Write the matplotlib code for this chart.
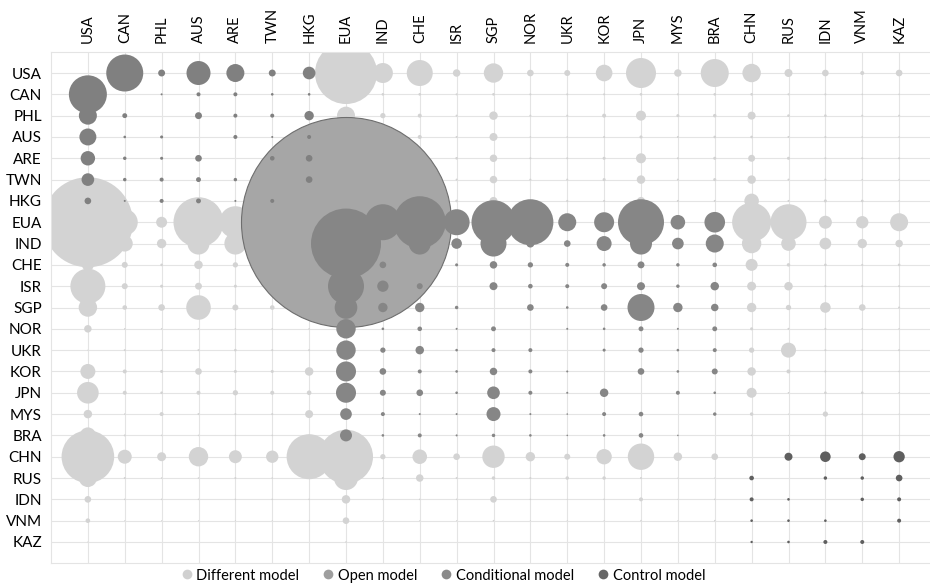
import numpy as np
import matplotlib.pyplot as plt
from matplotlib.lines import Line2D

plt.rcParams['font.family'] = ['Lato', 'DejaVu Sans']

countries = ['USA', 'CAN', 'PHL', 'AUS', 'ARE', 'TWN', 'HKG', 'EUA', 'IND', 'CHE', 'ISR', 'SGP',
             'NOR', 'UKR', 'KOR', 'JPN', 'MYS', 'BRA', 'CHN', 'RUS', 'IDN', 'VNM', 'KAZ']

# model followed by each economy
country_model = ['Open model'] * 7 + ['Conditional model'] * 11 + ['Control model'] * 5

legend_labels = ['Different model', 'Open model', 'Conditional model', 'Control model']

# bubble values, row = reporting economy, column = partner (same order as countries)
values = [
    [0, 342, 12, 144, 81, 12, 40, 961, 100, 169, 14, 94, 11, 9, 69, 225, 14, 196, 85, 16, 11, 4, 11],
    [361, 0, 1, 4, 4, 1.7, 1.7, 4, 1.7, 1.7, 1, 1.7, 1, 1, 1, 1.7, 1, 1.7, 1.7, 1, 1, 0.6, 0.6],
    [81, 6, 0, 12, 4, 4, 22, 81, 7, 4, 1, 18, 1, 1, 4, 25, 2.3, 3, 16, 1.7, 1.7, 1, 1],
    [72, 1.7, 2.3, 0, 4, 1, 4, 36, 1.7, 4, 1, 16, 0.6, 0.6, 1, 2.3, 1, 1.7, 1.7, 1, 1, 0.6, 0.6],
    [52, 3, 2.3, 11, 0, 5.3, 11, 36, 1, 1, 1.7, 14, 1, 1, 2.3, 25, 1, 2.3, 12, 2.3, 1, 1, 1],
    [40, 3, 4, 6, 3, 0, 11, 25, 1, 1, 1, 14, 1, 1, 2.3, 18, 1, 2.3, 18, 1, 1, 0.6, 0.6],
    [11, 1, 4, 6, 1, 4, 0, 64, 4, 4, 1.7, 16, 1, 1, 1, 16, 1, 1, 53, 1, 2.3, 1.7, 0.6],
    [2025, 169, 30, 625, 256, 64, 144, 11025, 324, 676, 169, 484, 529, 81, 100, 529, 53, 106, 380, 324, 42, 38, 81],
    [484, 64, 22, 121, 121, 16, 36, 1225, 0, 121, 28, 169, 16, 11, 56, 121, 34, 81, 94, 53, 34, 22, 14],
    [36, 9, 1.7, 18, 7, 4, 4, 144, 11, 0, 2.3, 14, 7, 4, 3, 12, 3, 5.3, 36, 3, 1.7, 1, 1.7],
    [306, 9, 2.3, 12, 2.3, 4, 9, 324, 32, 9, 0, 16, 5.3, 4, 9, 16, 3, 18, 20, 18, 1, 1, 1],
    [85, 5.3, 11, 151, 9, 5.3, 16, 128, 22, 22, 3, 0, 11, 1.7, 11, 182, 22, 14, 22, 7, 28, 11, 1],
    [14, 0.6, 0.6, 0.6, 0.6, 0.6, 0.6, 94, 1.7, 5.3, 1, 6, 0, 1, 1.7, 6, 1, 6, 2.3, 1, 1, 0.6, 0.6],
    [0.3, 1, 1, 1, 1.7, 1, 1, 94, 7, 18, 1.7, 4, 4, 0, 2.3, 7, 1.7, 4, 7, 56, 1, 0.6, 1],
    [56, 4, 2.3, 11, 2.3, 2.3, 18, 100, 11, 4, 1.7, 14, 4, 1, 0, 11, 1.7, 9, 18, 4, 1, 0.6, 0.6],
    [117, 4, 1.7, 4, 7, 4, 5.3, 100, 9, 11, 1.7, 40, 4, 1, 18, 0, 4, 1.7, 25, 0.6, 1.7, 1.7, 0.6],
    [18, 0.6, 4, 1, 1, 1, 16, 34, 4, 1, 1, 49, 1, 0.6, 4, 5.3, 0, 3, 3, 0.3, 7, 0.6, 0.3],
    [64, 1, 0.6, 0.6, 0.6, 0.6, 1, 36, 1.7, 4, 1, 3, 1.7, 0.6, 1.7, 5.3, 0.6, 0, 0.6, 0.3, 0.3, 0.3, 0.3],
    [692, 49, 20, 94, 42, 38, 506, 729, 7, 53, 11, 125, 22, 9, 59, 174, 18, 11, 0, 16, 28, 12, 32],
    [81, 1, 0.6, 0.6, 1, 0.6, 1, 144, 1, 14, 1, 3, 1, 3, 3, 1, 0.3, 0.3, 5.3, 0, 3, 3, 11],
    [11, 0.6, 0.6, 0.6, 0.6, 0.6, 0.6, 18, 0.6, 0.6, 0.6, 11, 0.6, 0.3, 0.6, 4, 0.3, 0.6, 4, 1.7, 0, 3, 4],
    [5.3, 0.3, 0.3, 0.3, 0.3, 0.3, 0.3, 11, 0.3, 0.3, 0.3, 0.6, 0.3, 0.3, 0.3, 0.6, 0.3, 0.6, 1.7, 1.7, 1.7, 0, 4],
    [0.3, 0, 0, 0, 0, 0, 0, 0.6, 0, 0, 0, 0, 0, 0, 0, 0, 0, 0, 1.4, 1.7, 4, 4, 0],
]

bubble_color = {'Different model': '#d3d3d3', 'Open model': '#808080',
                'Conditional model': '#868686', 'Control model': '#5f5f5f'}
legend_color = {'Different model': '#d0d0d0', 'Open model': '#9e9e9e',
                'Conditional model': '#8a8a8a', 'Control model': '#666666'}

fig = plt.figure(figsize=(9.3, 5.84), dpi=100)
ax = fig.add_axes([51 / 930, (584 - 563.3) / 584, 885 / 930, 511.6 / 584])

scale = (2 * 0.72) ** 2  # value -> marker area in pt^2

for cat in legend_labels:
    xs, ys, ss = [], [], []
    for i in range(len(countries)):
        for j in range(len(countries)):
            v = values[i][j]
            if v <= 0 or i == j:
                continue
            m = country_model[i] if country_model[i] == country_model[j] else 'Different model'
            if m != cat:
                continue
            xs.append(j)
            ys.append(i)
            ss.append(v * scale)
    z = 2 if cat == 'Different model' else 4
    ax.scatter(xs, ys, s=ss, c=bubble_color[cat], linewidths=0, zorder=z)

# flows inside the same economy (diagonal)
for i in range(len(countries)):
    if values[i][i] > 0:
        ax.scatter([i], [i], s=values[i][i] * scale, c='#a6a6a6',
                   edgecolors='#6e6e6e', linewidths=0.8, zorder=3)

ax.set_xlim(-1, 23)
ax.set_ylim(23, -1)
ax.set_xticks(range(len(countries)))
ax.set_yticks(range(len(countries)))
ax.set_xticklabels(countries, rotation=90, fontsize=10.5)
ax.set_yticklabels(countries, fontsize=11)
ax.xaxis.tick_top()
ax.tick_params(length=0, pad=6.5)
ax.grid(True, color='#e4e4e4', linewidth=0.8)
ax.set_axisbelow(True)
for sp in ax.spines.values():
    sp.set_color('#e4e4e4')
    sp.set_linewidth(0.8)

handles = [Line2D([0], [0], marker='o', linestyle='', markersize=7,
                  markerfacecolor=legend_color[c], markeredgewidth=0) for c in legend_labels]
fig.legend(handles, legend_labels, loc='lower center', bbox_to_anchor=(0.4755, -0.02), ncol=4,
           frameon=False, fontsize=10.5, handlelength=1.0, handletextpad=0.15, columnspacing=1.5)

fig.savefig('out.png', dpi=100)
